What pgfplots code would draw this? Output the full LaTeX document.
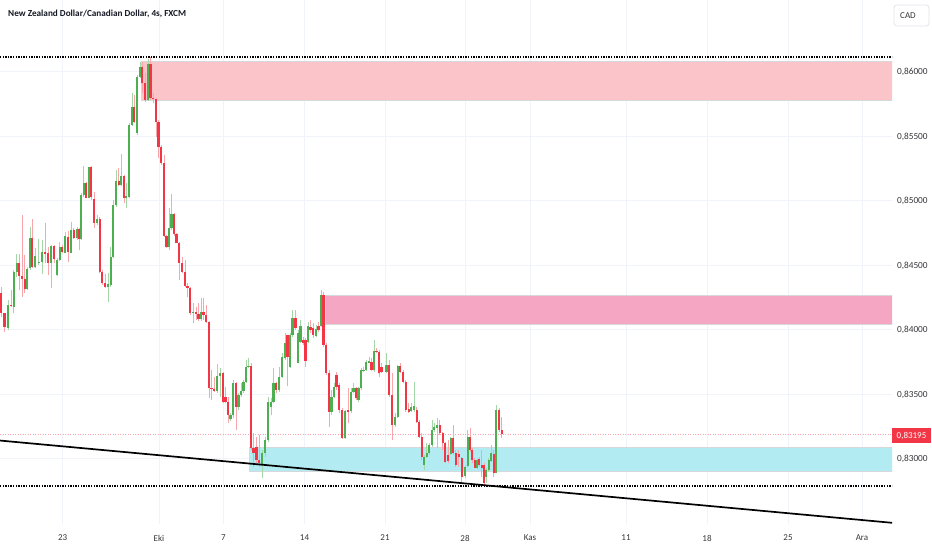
\documentclass[border=0pt]{standalone}
\usepackage{pgfplots}
\usepackage{pgfplotstable}
\pgfplotsset{compat=1.18}
\usepackage{fontspec}
\setmainfont{Carlito}
\definecolor{up}{RGB}{76,175,80}
\definecolor{dn}{RGB}{242,54,69}
\definecolor{upw}{RGB}{165,214,167}
\definecolor{dnw}{RGB}{249,165,172}
\definecolor{gridc}{RGB}{240,243,250}
\definecolor{zred}{RGB}{251,196,200}
\definecolor{zpink}{RGB}{244,166,194}
\definecolor{zcyan}{RGB}{178,235,242}
\definecolor{zbord}{RGB}{214,216,220}
\definecolor{txt}{RGB}{19,23,34}
\definecolor{lbl}{RGB}{55,55,60}
\definecolor{boxc}{RGB}{224,227,235}

% green (rising) candles: x open high low close
\pgfplotstableread{
x o h l c
8.3 0.84012 0.84232 0.83999 0.84193
13.7 0.84180 0.84465 0.84129 0.84452
16.7 0.84452 0.84589 0.84413 0.84516
27.3 0.84315 0.84490 0.84310 0.84470
30 0.84478 0.84800 0.84465 0.84710
35.3 0.84485 0.84632 0.84478 0.84573
38.7 0.84516 0.84702 0.84503 0.84529
42 0.84529 0.84697 0.84434 0.84607
51 0.84521 0.84658 0.84322 0.84653
57 0.84423 0.84555 0.84418 0.84542
59.7 0.84542 0.84684 0.84537 0.84645
65.3 0.84599 0.84762 0.84594 0.84728
71 0.84599 0.84839 0.84594 0.84775
77 0.84710 0.84800 0.84697 0.84782
81 0.84705 0.85059 0.84697 0.85046
83.7 0.85046 0.85271 0.85033 0.85136
89 0.85025 0.85266 0.85020 0.85260
97 0.84826 0.84891 0.84813 0.84860
108 0.84330 0.84439 0.84219 0.84353
110.7 0.84346 0.84645 0.84335 0.84568
113.3 0.84568 0.85007 0.84555 0.84968
116 0.84966 0.85240 0.84955 0.85157
121.3 0.85123 0.85364 0.85116 0.85196
126.3 0.85020 0.85136 0.84943 0.85038
129.3 0.85033 0.85601 0.85020 0.85589
132 0.85589 0.85834 0.85581 0.85726
137 0.85524 0.85976 0.85511 0.85963
140 0.85963 0.86080 0.85950 0.86036
148 0.85782 0.86098 0.85777 0.86062
169 0.84645 0.84943 0.84620 0.84788
171.5 0.84788 0.85054 0.84775 0.84899
193 0.84129 0.84206 0.84051 0.84139
201 0.84082 0.84245 0.84072 0.84139
217 0.83529 0.83736 0.83509 0.83643
220 0.83643 0.83702 0.83483 0.83664
230.5 0.83307 0.83353 0.83297 0.83340
233 0.83340 0.83612 0.83315 0.83586
238.5 0.83400 0.83509 0.83379 0.83496
241 0.83496 0.83586 0.83483 0.83529
243.5 0.83529 0.83612 0.83509 0.83599
246 0.83599 0.83767 0.83586 0.83715
248.5 0.83713 0.83780 0.83702 0.83720
262 0.82953 0.83069 0.82850 0.83043
265 0.83043 0.83173 0.83017 0.83147
268 0.83147 0.83483 0.83134 0.83444
271 0.83400 0.83470 0.83340 0.83444
273.5 0.83444 0.83702 0.83431 0.83586
279 0.83534 0.83715 0.83521 0.83638
282 0.83638 0.83819 0.83625 0.83788
285 0.83780 0.83974 0.83767 0.83896
290 0.83710 0.83974 0.83702 0.83961
292.5 0.83961 0.84155 0.83948 0.84090
298 0.83746 0.83999 0.83741 0.83974
300.5 0.83909 0.84077 0.83896 0.84033
308 0.83909 0.84064 0.83896 0.84033
316 0.83953 0.84038 0.83943 0.84005
321 0.84033 0.84310 0.84025 0.84271
331.5 0.83366 0.83534 0.83340 0.83483
334 0.83483 0.83586 0.83470 0.83560
345 0.83160 0.83379 0.83152 0.83374
351 0.83374 0.83547 0.83359 0.83521
353.5 0.83521 0.83586 0.83509 0.83547
358.5 0.83457 0.83560 0.83444 0.83547
361 0.83547 0.83702 0.83534 0.83689
363.5 0.83682 0.83715 0.83676 0.83689
366 0.83689 0.83767 0.83684 0.83754
369 0.83746 0.83793 0.83741 0.83759
374 0.83689 0.83922 0.83676 0.83839
386.5 0.83676 0.83819 0.83664 0.83728
395 0.83263 0.83353 0.83250 0.83328
397.7 0.83328 0.83728 0.83315 0.83720
411.3 0.83374 0.83431 0.83366 0.83405
414.3 0.83379 0.83599 0.83366 0.83410
424.3 0.82953 0.83030 0.82914 0.83017
426.7 0.83017 0.83121 0.83005 0.83043
429.3 0.83043 0.83121 0.83030 0.83108
432 0.83108 0.83302 0.83095 0.83224
434.3 0.83224 0.83276 0.83211 0.83250
437 0.83237 0.83315 0.83082 0.83263
450.7 0.83038 0.83173 0.83030 0.83160
465 0.82868 0.82953 0.82850 0.82940
467.7 0.82945 0.83224 0.82935 0.83173
477 0.82932 0.83005 0.82919 0.82992
486.3 0.82862 0.82927 0.82811 0.82914
488.7 0.82914 0.83005 0.82901 0.82992
491.3 0.82986 0.83108 0.82979 0.83043
496.3 0.82894 0.83418 0.82888 0.83379
}\upd

% red (falling) candles: x open high low close
\pgfplotstableread{
x o h l c
1 0.84284 0.84330 0.84103 0.84129
4.5 0.84129 0.84135 0.83986 0.84025
11 0.84193 0.84310 0.84180 0.84185
19.3 0.84516 0.84589 0.84310 0.84418
22 0.84418 0.84891 0.84258 0.84397
24.7 0.84397 0.84581 0.84284 0.84315
32.3 0.84710 0.84857 0.84478 0.84490
45.3 0.84607 0.84832 0.84516 0.84589
48.3 0.84594 0.84645 0.84426 0.84521
54 0.84653 0.84658 0.84516 0.84547
62.3 0.84645 0.84658 0.84599 0.84607
68.3 0.84723 0.84767 0.84529 0.84601
73.7 0.84775 0.84788 0.84702 0.84710
79 0.84782 0.84788 0.84620 0.84705
86 0.85136 0.85149 0.85020 0.85025
91.3 0.85260 0.85271 0.85007 0.85028
94.3 0.85015 0.85072 0.84788 0.84826
99.7 0.84860 0.84878 0.84439 0.84452
102.3 0.84452 0.84465 0.84348 0.84361
105 0.84361 0.84434 0.84322 0.84330
118.7 0.85157 0.85253 0.85116 0.85123
124 0.85196 0.85201 0.84981 0.85020
134.3 0.85726 0.85821 0.85601 0.85614
142.3 0.86036 0.86080 0.85834 0.85912
145 0.85912 0.85989 0.85769 0.85782
150.5 0.86062 0.86118 0.85782 0.85795
153 0.85795 0.85834 0.85757 0.85788
156 0.85790 0.85795 0.85498 0.85614
158.5 0.85614 0.85627 0.85330 0.85421
161 0.85421 0.85434 0.85279 0.85291
164 0.85291 0.85356 0.84723 0.84731
166.5 0.84731 0.84736 0.84632 0.84645
174 0.84899 0.84904 0.84728 0.84741
176.5 0.84741 0.84749 0.84671 0.84676
179 0.84676 0.84684 0.84387 0.84521
182 0.84521 0.84568 0.84444 0.84452
185 0.84452 0.84542 0.84330 0.84341
187.5 0.84341 0.84361 0.84253 0.84322
190 0.84322 0.84335 0.84116 0.84129
196 0.84139 0.84180 0.84077 0.84121
198.5 0.84121 0.84206 0.84072 0.84082
203.5 0.84139 0.84245 0.84077 0.84116
206 0.84116 0.84193 0.84051 0.84064
209 0.84064 0.84072 0.83470 0.83547
211.5 0.83547 0.83689 0.83457 0.83540
214 0.83540 0.83638 0.83521 0.83529
223 0.83664 0.83676 0.83431 0.83444
225.5 0.83483 0.83560 0.83431 0.83444
228 0.83444 0.83483 0.83276 0.83340
236 0.83586 0.83599 0.83224 0.83400
251 0.83720 0.83741 0.83069 0.83082
253.5 0.83082 0.83198 0.82940 0.83043
256.5 0.83095 0.83173 0.82966 0.82992
259 0.82992 0.83186 0.82940 0.82966
276 0.83586 0.83599 0.83509 0.83534
287.5 0.83961 0.83965 0.83565 0.83793
295.5 0.84090 0.84155 0.83999 0.84012
303 0.83922 0.83948 0.83883 0.83896
305.5 0.83922 0.83935 0.83715 0.83759
310.5 0.84025 0.84077 0.83974 0.83999
313 0.84012 0.84051 0.83935 0.83961
318.5 0.84030 0.84064 0.83986 0.83999
323.5 0.84271 0.84297 0.83870 0.83883
326 0.83883 0.83896 0.83651 0.83669
329 0.83669 0.83689 0.83250 0.83366
336.5 0.83651 0.83676 0.83534 0.83560
339 0.83573 0.83586 0.83353 0.83379
342 0.83379 0.83392 0.83152 0.83160
348 0.83379 0.83547 0.83276 0.83366
356 0.83547 0.83560 0.83457 0.83470
371.5 0.83754 0.83780 0.83684 0.83689
376.5 0.83839 0.83857 0.83824 0.83832
379 0.83832 0.83844 0.83638 0.83664
381.5 0.83715 0.83741 0.83669 0.83676
389.3 0.83728 0.83767 0.83483 0.83496
392.3 0.83496 0.83664 0.83147 0.83263
400.3 0.83720 0.83741 0.83664 0.83676
403 0.83676 0.83689 0.83586 0.83599
405.7 0.83599 0.83612 0.83366 0.83379
408.7 0.83384 0.83431 0.83353 0.83366
416.7 0.83379 0.83405 0.83276 0.83289
419.3 0.83289 0.83302 0.83160 0.83173
421.7 0.83173 0.83198 0.82992 0.83017
439.7 0.83263 0.83302 0.83186 0.83198
442.7 0.83198 0.83211 0.83069 0.83121
445.3 0.83121 0.83134 0.82966 0.82979
448 0.83030 0.83147 0.82966 0.82986
453 0.83160 0.83263 0.83030 0.83043
455.7 0.83043 0.83069 0.82940 0.82953
458.7 0.83038 0.83069 0.82940 0.83012
461.7 0.83005 0.83017 0.82811 0.82862
470 0.83173 0.83237 0.83056 0.83069
472.3 0.83069 0.83082 0.82966 0.82992
474.7 0.82992 0.83005 0.82927 0.82932
479.3 0.82997 0.83017 0.82940 0.82953
481.7 0.82953 0.83069 0.82862 0.82932
484 0.82953 0.82966 0.82798 0.82811
493.7 0.83038 0.83069 0.82862 0.82888
499 0.83379 0.83392 0.83211 0.83224
501.7 0.83224 0.83328 0.83160 0.83195
}\dnd

\begin{document}
\begin{tikzpicture}[x=1pt,y=1pt]
\useasboundingbox (0,-26) rectangle (932,524);
\begin{axis}[
  at={(0pt,0pt)}, anchor=south west,
  scale only axis, width=892pt, height=524pt,
  xmin=0, xmax=892, ymin=0.824961, ymax=0.86558,
  axis line style={draw=none},
  tick style={draw=none},
  grid=major,
  major grid style={draw=gridc, line width=1pt},
  xtick={62.6,159,223.5,304.5,385,465,530,626,707,788,862},
  xticklabels={23,Eki,7,14,21,28,Kas,11,18,25,Ara},
  xticklabel style={anchor=center, yshift=-14pt, font=\fontsize{9}{10}\selectfont, text=lbl},
  ytick={0.83,0.835,0.84,0.845,0.85,0.855,0.86},
  yticklabels={{0,83000},{0,83500},{0,84000},{0,84500},{0,85000},{0,85500},{0,86000}},
  yticklabel pos=right,
  yticklabel style={anchor=west, xshift=1.5pt, font=\fontsize{9.3}{10}\selectfont, text=lbl},
  /pgf/number format/assume math mode=true,
]
% zones
\filldraw[fill=zred, draw=zbord, line width=1pt] (axis cs:141,0.85782) rectangle (axis cs:893,0.86082);
\filldraw[fill=zpink, draw=zbord, line width=1pt] (axis cs:325,0.84044) rectangle (axis cs:893,0.84271);
\filldraw[fill=zcyan, draw=zbord, line width=1pt] (axis cs:249,0.82903) rectangle (axis cs:893,0.83088);
% last price line
\addplot[dn!45, line width=0.6pt, dash pattern=on 1pt off 1.5pt, forget plot] coordinates {(0,0.83195) (892,0.83195)};
% dotted levels
\addplot[black, line width=1.3pt, dash pattern=on 1.3pt off 1.3pt, forget plot] coordinates {(0,0.86116) (892,0.86116)};
\addplot[black, line width=1.3pt, dash pattern=on 1.3pt off 1.3pt, forget plot] coordinates {(0,0.82791) (892,0.82791)};
% wicks
\addplot[draw=none, mark=none, forget plot, error bars/.cd, y dir=plus, y explicit, error mark=none,
  error bar style={draw=upw, line width=1pt}] table[x=x, y=l, y error expr=\thisrow{h}-\thisrow{l}] {\upd};
\addplot[draw=none, mark=none, forget plot, error bars/.cd, y dir=plus, y explicit, error mark=none,
  error bar style={draw=dnw, line width=1pt}] table[x=x, y=l, y error expr=\thisrow{h}-\thisrow{l}] {\dnd};
% bodies
\addplot[draw=none, mark=none, forget plot, error bars/.cd, y dir=plus, y explicit, error mark=none,
  error bar style={draw=up, line width=2.3pt}] table[x=x, y=o, y error expr=\thisrow{c}-\thisrow{o}] {\upd};
\addplot[draw=none, mark=none, forget plot, error bars/.cd, y dir=plus, y explicit, error mark=none,
  error bar style={draw=dn, line width=2.3pt}] table[x=x, y=c, y error expr=\thisrow{o}-\thisrow{c}] {\dnd};
% trend line
\addplot[black, line width=1.7pt, forget plot] coordinates {(0,0.83143) (894,0.82504)};
\end{axis}
% title
\node[anchor=west, inner sep=0pt, font=\fontsize{9.2}{11}\selectfont\bfseries, text=txt] at (8,510) {New Zealand Dollar/Canadian Dollar, 4s, FXCM};
% currency box
\draw[boxc, fill=white, rounded corners=3pt, line width=0.8pt] (894,498) rectangle (929,519);
\node[anchor=west, inner sep=0pt, font=\fontsize{9}{10}\selectfont, text=lbl] at (900,508.5) {CAD};
% last price label
\fill[dn] (892,81) rectangle (931,96);
\node[inner sep=0pt, font=\fontsize{9}{10}\selectfont, text=white] at (911.5,88.5) {0,83195};
\end{tikzpicture}
\end{document}
